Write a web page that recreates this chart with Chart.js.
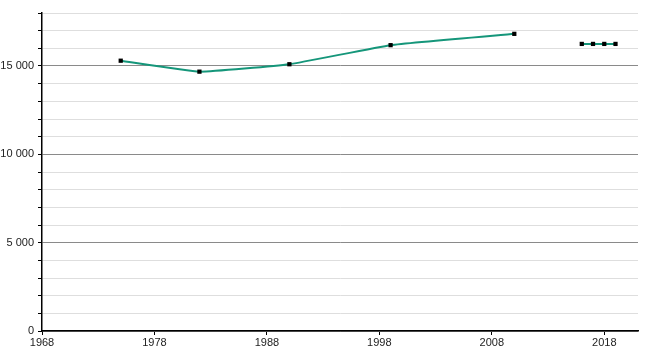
<!DOCTYPE html>
<html lang="en">
<head>
    <meta charset="UTF-8">
    <title>Population</title>
    <style>
        html, body { margin: 0; padding: 0; background: #fff; }
        #wrap { width: 650px; height: 350px; position: relative; }
    </style>
</head>
<body>
    <div id="wrap"><canvas id="myChart"></canvas></div>
    <script src="https://cdn.jsdelivr.net/npm/chart.js"></script>
    <script>
        // data (null breaks the line)
        const years = [1975, 1982, 1990, 1999, 2010, 2013, 2016, 2017, 2018, 2019];
        const population = [15300, 14680, 15100, 16180, 16820, null, 16250, 16250, 16250, 16250];
        const xTickYears = [1968, 1978, 1988, 1998, 2008, 2018];

        function fmt(v) {
            return String(v).replace(/\B(?=(\d{3})+(?!\d))/g, ' ');
        }

        const points = years.map((y, i) => ({ x: y, y: population[i] }));

        const ctx = document.getElementById('myChart').getContext('2d');
        new Chart(ctx, {
            type: 'line',
            data: {
                datasets: [{
                    data: points,
                    borderColor: '#15967a',
                    borderWidth: 2,
                    tension: 0.12,
                    spanGaps: false,
                    pointStyle: 'rect',
                    pointRadius: 3,
                    pointBackgroundColor: '#000',
                    pointBorderColor: '#000',
                    pointBorderWidth: 0
                }]
            },
            options: {
                responsive: true,
                maintainAspectRatio: false,
                animation: false,
                layout: { padding: { top: 13, right: 12, left: 0, bottom: 0 } },
                plugins: { legend: { display: false }, tooltip: { enabled: false } },
                scales: {
                    x: {
                        type: 'linear',
                        min: 1968,
                        max: 2021,
                        afterBuildTicks: axis => {
                            axis.ticks = xTickYears.map(v => ({ value: v }));
                        },
                        afterFit: axis => { axis.height = 19; },
                        border: { color: '#000', width: 1.5 },
                        grid: { drawOnChartArea: false, drawTicks: true, tickLength: 4, tickColor: '#000' },
                        ticks: {
                            color: '#222',
                            font: { family: 'Liberation Sans', size: 11 },
                            padding: 1,
                            maxRotation: 0,
                            callback: v => String(v)
                        }
                    },
                    y: {
                        min: 0,
                        max: 18000,
                        afterFit: axis => { axis.width = 42; },
                        border: { color: '#000', width: 1.5 },
                        grid: {
                            drawTicks: true,
                            tickLength: 4,
                            tickColor: '#000',
                            color: c => (c.tick && c.tick.value % 5000 === 0) ? '#8a8a8a' : '#dedede',
                            lineWidth: 1
                        },
                        ticks: {
                            stepSize: 1000,
                            autoSkip: false,
                            color: '#222',
                            font: { family: 'Liberation Sans', size: 11 },
                            padding: 4,
                            callback: v => (v % 5000 === 0 ? fmt(v) : '')
                        }
                    }
                }
            }
        });
    </script>
</body>
</html>
